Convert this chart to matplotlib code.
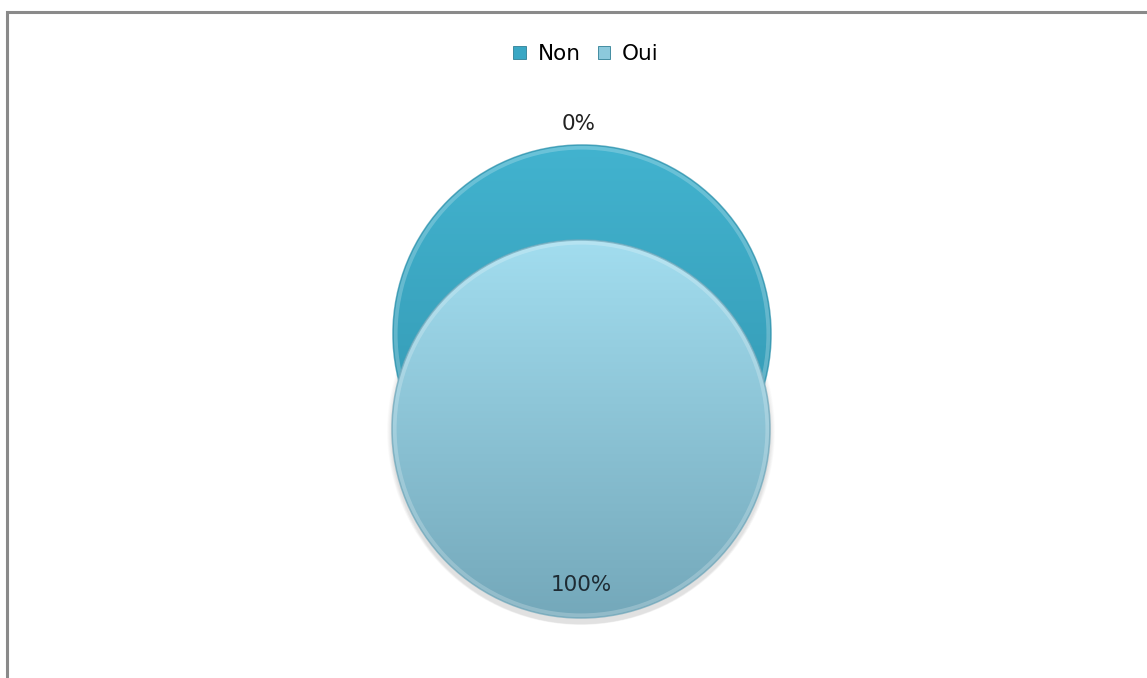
import numpy as np
import matplotlib
matplotlib.use("Agg")
import matplotlib.pyplot as plt
from matplotlib.patches import Patch, Circle, Ellipse
from matplotlib.colors import LinearSegmentedColormap

categories = ["Non", "Oui"]
values = [0, 100]
labels = ["0%", "100%"]
top_colors = ["#42B3CF", "#A2DDEF"]
bottom_colors = ["#3193AD", "#74A8BA"]
legend_colors = ["#3AA7C4", "#8CC9DC"]

W, H = 1147, 678
fig = plt.figure(figsize=(W / 100, H / 100), dpi=100)
ax = fig.add_axes([0, 0, 1, 1])

# chart frame (cropped on right/bottom)
ax.plot([7, 7, W + 5], [H + 5, 12, 12], color="#8A8A8A", lw=2.2, solid_joinstyle="miter", zorder=1)

radius = 189
centers = [(582, 334), (581, 429)]

# soft shadow below front disc
for k in range(10):
    ax.add_patch(Ellipse((581, 431 + k * 0.4), 2 * radius + 10 - k, 2 * radius + 10 - k,
                         color="#000000", alpha=0.012, lw=0, zorder=1.5))

for i, (cat, v) in enumerate(zip(categories, values)):
    cx, cy = centers[i]
    wedges, _ = ax.pie([100], radius=radius, center=(cx, cy), startangle=90,
                       colors=[top_colors[i]], wedgeprops=dict(lw=0), frame=True)
    w = wedges[0]
    w.set_zorder(2 + i)
    cmap = LinearSegmentedColormap.from_list("g%d" % i, [top_colors[i], bottom_colors[i]])
    grad = np.linspace(0, 1, 256).reshape(-1, 1)
    im = ax.imshow(grad, cmap=cmap, extent=(cx - radius, cx + radius, cy + radius, cy - radius),
                   aspect="auto", zorder=2 + i + 0.1, interpolation="bilinear")
    im.set_clip_path(w)
    rim = Circle((cx, cy), radius - 2.5, fill=False, lw=3, ec="#FFFFFF", alpha=0.22,
                 zorder=2 + i + 0.2)
    ax.add_patch(rim)
    edge = Circle((cx, cy), radius, fill=False, lw=1.2, ec=bottom_colors[i], alpha=0.7,
                  zorder=2 + i + 0.2)
    ax.add_patch(edge)

ax.set_xlim(0, W)
ax.set_ylim(H, 0)
ax.set_aspect("equal")
ax.axis("off")

ax.text(579, 124, labels[0], ha="center", va="center", fontsize=15.5, color="#222222",
        family="DejaVu Sans", zorder=5)
ax.text(581, 585, labels[1], ha="center", va="center", fontsize=15.5, color="#1E2B33",
        family="DejaVu Sans", zorder=5)

handles = [Patch(facecolor=legend_colors[i], edgecolor="#2F7F95", lw=0.6) for i in range(2)]
fig.legend(handles, categories, loc="center", bbox_to_anchor=(586 / W, 1 - 54 / H), ncol=2,
           frameon=False, fontsize=15.5, handlelength=0.58, handleheight=0.58,
           handletextpad=0.55, columnspacing=0.8, borderpad=0)

fig.savefig("out.png", dpi=100, facecolor="white")
